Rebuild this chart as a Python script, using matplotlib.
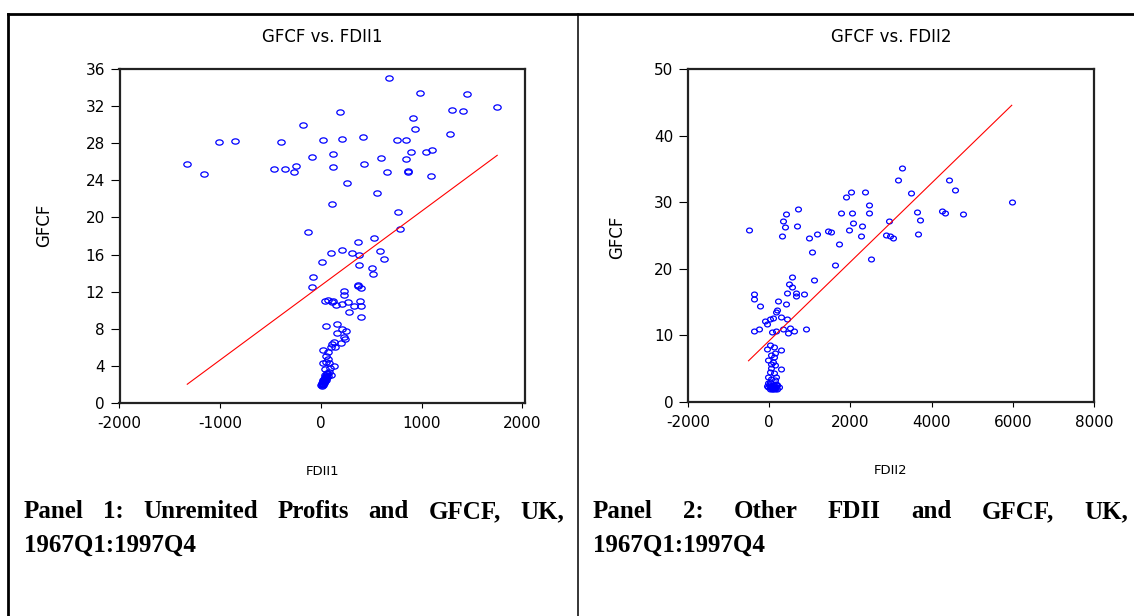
import numpy as np
import matplotlib
matplotlib.use("Agg")
import matplotlib.pyplot as plt
from matplotlib.lines import Line2D
from matplotlib.path import Path
from matplotlib.transforms import Affine2D

plt.rcParams["axes.unicode_minus"] = False

# Panel 1: GFCF vs. FDII1 (unremitted profits)
fdii1 = [-1327, -1161, -1007, -855, -395, -461, -361, -243, -265, -173,
         -92, -129, 18, 188, 214, 125, 122, 258, 107, 417,
         431, 675, 988, 1453, 1751, 1302, 1416, 914, 937, 1287,
         756, 848, 601, 841, 896, 1044, 1106, 660, 870, 870,
         1095, 553, 763, 782, 524, 365, 210, 100, 310, 380,
         586, 631, 376, 509, 520, 7, -74, -85, 365, 395,
         372, 232, 229, 37, 74, 122, 107, 147, 206, 269,
         324, 284, 387, 402, 395, 48, 162, 214, 254, 159,
         229, 243, 129, 111, 199, 140, 96, 18, 74, 55,
         74, 48, 18, 81, 129, 92, 37, 85, 100,
         60, 45, 70, 40, 55, 30, 50, 25, 40, 20,
         35, 15, 30, 10, 25, 5, 20, 10, 45, 60,
         35, 15, 50, 28, 65]
gfcf1 = [25.8, 24.7, 28.2, 28.3, 28.2, 25.2, 25.2, 25.6, 24.9, 30.0,
         26.5, 18.4, 28.4, 31.4, 28.5, 26.9, 25.4, 23.7, 21.5, 28.65,
         25.8, 35.1, 33.4, 33.3, 31.9, 31.6, 31.5, 30.7, 29.5, 29.0,
         28.4, 28.4, 26.4, 26.35, 27.1, 27.1, 27.25, 24.9, 25.05, 24.9,
         24.5, 22.6, 20.6, 18.8, 17.75, 17.3, 16.45, 16.2, 16.2, 16.0,
         16.4, 15.5, 14.9, 14.5, 13.9, 15.2, 13.6, 12.45, 12.7, 12.4,
         12.55, 12.1, 11.65, 11.0, 11.05, 11.0, 10.9, 10.5, 10.7, 10.9,
         10.45, 9.8, 11.0, 10.45, 9.25, 8.25, 8.55, 8.0, 7.75, 7.5,
         7.1, 6.9, 6.6, 6.3, 6.5, 6.05, 6.05, 5.7, 5.5, 5.05,
         4.7, 4.4, 4.25, 4.25, 4.0, 3.7, 3.6, 3.3, 3.0,
         3.2, 3.0, 2.9, 2.8, 2.7, 2.6, 2.5, 2.45, 2.35, 2.3,
         2.2, 2.15, 2.1, 2.05, 2.0, 1.95, 1.9, 1.85, 2.6, 2.75,
         2.4, 2.0, 2.85, 2.25, 3.1]
fit1 = (12.65, 0.00803)   # intercept, slope of the fitted line

# Panel 2: GFCF vs. FDII2 (other FDII)
fdii2 = [-509, -377, -386, -219, -368, -246, -96, -61, 26, 105,
         70, 175, 228, 193, 175, 289, 439, 404, 439, 491,
         553, 570, 649, 649, 860, 1114, 895, 614, 500, 474,
         333, 316, 333, 404, 395, 675, 719, 974, 1053, 1184,
         1456, 1526, 1719, 1632, 1772, 1895, 1956, 2009, 2035, 2061,
         2263, 2289, 2368, 2447, 2465, 2509, 2886, 2982, 3044, 2939,
         3167, 3272, 3491, 3649, 3711, 3667, 4246, 4333, 4439, 4570,
         4772, 5974,
         12, 111, -45, 302, 153, 54, 119, -30, 94, 37,
         136, 54, 302, 12, 119, -30, 178, 54, 136,
         -40, 0, 40, 80, 120, 160, 200, 230, -20, 20,
         60, 100, 140, 180, -50, 10, 50, 90, 130, 170,
         30, 70, 110, 150, 190]
gfcf2 = [25.85, 16.3, 15.5, 14.5, 10.6, 10.9, 12.1, 11.7, 12.5, 12.6,
         10.5, 10.7, 15.2, 13.8, 13.6, 12.8, 12.4, 14.8, 16.4, 17.7,
         17.3, 18.8, 16.4, 16.0, 16.2, 18.3, 11.0, 10.7, 11.1, 10.4,
         10.9, 24.95, 27.2, 28.25, 26.35, 26.4, 29.05, 24.6, 22.6, 25.25,
         25.65, 25.5, 23.7, 20.6, 28.35, 30.8, 25.85, 31.6, 28.35, 26.85,
         24.95, 26.45, 31.55, 29.55, 28.4, 21.5, 25.15, 24.9, 24.7, 27.2,
         33.35, 35.2, 31.4, 28.5, 27.3, 25.2, 28.65, 28.45, 33.4, 31.9,
         28.25, 30.06,
         8.57, 8.3, 7.9, 7.8, 7.3, 7.06, 6.8, 6.3, 6.06, 5.7,
         5.56, 5.06, 4.9, 4.56, 4.3, 3.8, 3.8, 3.4, 3.3,
         2.8, 2.6, 2.4, 2.2, 2.1, 2.3, 2.5, 2.2, 2.2, 2.0,
         1.95, 2.0, 1.9, 2.0, 2.4, 3.0, 2.9, 2.6, 2.5, 2.7,
         2.3, 2.1, 2.3, 2.1, 2.6]
fit2 = (9.21, 0.005923)

W, H = 1134, 616
fig = plt.figure(figsize=(W / 100, H / 100), dpi=100)


def ellipse_marker(ratio):
    circle = Path.unit_circle()
    return circle.transformed(Affine2D().scale(ratio, 1.0))


def scatter_panel(rect, x, y, fit, xlim, xticks, ylim, yticks, title, xlab,
                  ratio, msize):
    ax = fig.add_axes(rect)
    x = np.asarray(x, float)
    y = np.asarray(y, float)
    ax.plot(x, y, linestyle="none", marker=ellipse_marker(ratio),
            markersize=msize, markerfacecolor="none", markeredgecolor="blue",
            markeredgewidth=0.9)
    xs = np.array([x.min(), x.max()])
    ax.plot(xs, fit[0] + fit[1] * xs, color="red", lw=0.8)
    ax.set_xlim(*xlim)
    ax.set_ylim(*ylim)
    ax.set_xticks(xticks)
    ax.set_yticks(yticks)
    ax.tick_params(axis="y", direction="out", length=6.5, width=0.8,
                   pad=4, labelsize=11)
    ax.tick_params(axis="x", direction="out", length=3.6, width=0.8,
                   pad=6, labelsize=11)
    for s in ax.spines.values():
        s.set_linewidth(1.6)
        s.set_color("#222222")
    ax.set_title(title, fontsize=12, pad=19.5)
    ax.set_xlabel(xlab, fontsize=9.5)
    ax.xaxis.label.set_va("center")
    ax.xaxis.set_label_coords(0.5, -0.207)
    return ax


ax1 = scatter_panel([119.5 / W, 1 - 402.7 / H, 405.8 / W, 333.4 / H],
                    fdii1, gfcf1, fit1, (-2000, 2030),
                    [-2000, -1000, 0, 1000, 2000], (0, 36), range(0, 37, 4),
                    "GFCF vs. FDII1", "FDII1", 1.4, 5.3)
ax2 = scatter_panel([688 / W, 1 - 402 / H, 406 / W, 332.7 / H],
                    fdii2, gfcf2, fit2, (-2000, 8000),
                    [-2000, 0, 2000, 4000, 6000, 8000], (0, 50), range(0, 51, 10),
                    "GFCF vs. FDII2", "FDII2", 1.2, 4.2)

fig.text(44 / W, 1 - 225 / H, "GFCF", rotation=90, ha="center", va="center",
         fontsize=12)
fig.text(617 / W, 1 - 237 / H, "GFCF", rotation=90, ha="center", va="center",
         fontsize=12)

# table borders
for xs_, ys_, lw in [((8, W), (14, 14), 2.0),
                     ((8, 8), (14, H), 2.0),
                     ((578, 578), (14, H), 1.1)]:
    fig.add_artist(Line2D([v / W for v in xs_], [1 - v / H for v in ys_],
                          transform=fig.transFigure, color="black", lw=lw))

# captions (justified first line)
cap_font = dict(family="Liberation Serif", fontweight="bold", fontsize=18)
renderer = fig.canvas.get_renderer()


def justified(words, x0, x1, base):
    texts = [fig.text(0, 1 - base / H, w, va="baseline", **cap_font)
             for w in words]
    widths = [t.get_window_extent(renderer).width for t in texts]
    gap = (x1 - x0 - sum(widths)) / (len(words) - 1)
    pos = x0
    for t, w in zip(texts, widths):
        t.set_x(pos / W)
        pos += w + gap


justified(["Panel", "1:", "Unremited", "Profits", "and", "GFCF,", "UK,"],
          24, 564, 518.5)
fig.text(24 / W, 1 - 552 / H, "1967Q1:1997Q4", va="baseline", **cap_font)
justified(["Panel", "2:", "Other", "FDII", "and", "GFCF,", "UK,"],
          593, 1128, 518.5)
fig.text(593 / W, 1 - 552 / H, "1967Q1:1997Q4", va="baseline", **cap_font)

fig.savefig("out.png", dpi=100)
